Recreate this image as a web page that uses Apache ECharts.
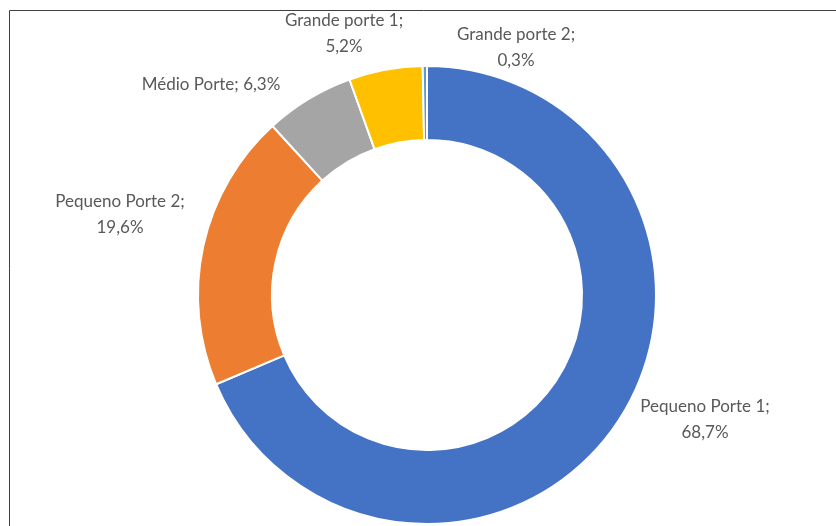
<!DOCTYPE html>
<html>
<head>
<meta charset="utf-8">
<style>
  html, body { margin: 0; padding: 0; background: #fff; }
  #chart { width: 836px; height: 526px; }
</style>
<script src="https://cdn.jsdelivr.net/npm/echarts@6/dist/echarts.min.js"></script>
</head>
<body>
<div id="chart"></div>
<script>
// categorias e valores (%)
var categorias = ['Pequeno Porte 1', 'Pequeno Porte 2', 'Médio Porte', 'Grande porte 1', 'Grande porte 2'];
var valores = [68.7, 19.6, 6.3, 5.2, 0.3];
var cores = ['#4472C4', '#ED7D31', '#A5A5A5', '#FFC000', '#5B9BD5'];

// posição (centro) de cada rótulo
var posRotulos = [[705, 420], [120, 215], [211, 85], [344, 34], [516, 48]];

var dados = [];
for (var i = 0; i < categorias.length; i++) {
  dados.push({ name: categorias[i], value: valores[i], itemStyle: { color: cores[i] } });
}

var myChart = echarts.init(document.getElementById('chart'));

var option = {
  animation: false,
  graphic: [
    {
      type: 'polyline',
      shape: { points: [[9.5, 530], [9.5, 10.5], [840, 10.5]] },
      style: { stroke: '#404040', lineWidth: 1, fill: null }
    }
  ],
  series: [
    {
      type: 'pie',
      center: [427, 295],
      radius: [155, 229],
      startAngle: 90,
      clockwise: true,
      data: dados,
      itemStyle: { borderColor: '#fff', borderWidth: 2 },
      labelLine: { show: false },
      label: {
        show: true,
        position: 'outside',
        color: '#595959',
        fontFamily: 'Lato',
        fontSize: 17,
        lineHeight: 26,
        align: 'center',
        formatter: function (p) {
          var v = p.value.toFixed(1).replace('.', ',') + '%';
          if (p.dataIndex === 2) return p.name + '; ' + v;
          return p.name + ';\n' + v;
        }
      },
      labelLayout: function (params) {
        var pos = posRotulos[params.dataIndex];
        return { x: pos[0], y: pos[1], align: 'center', verticalAlign: 'middle' };
      }
    }
  ]
};

myChart.setOption(option);
</script>
</body>
</html>
